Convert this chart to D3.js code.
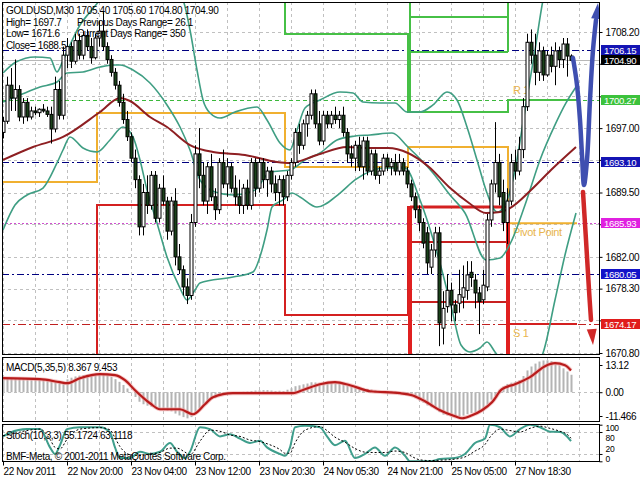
<!DOCTYPE html>
<html><head><meta charset="utf-8">
<script src="https://cdn.jsdelivr.net/npm/d3@7"></script>
<style>
html,body{margin:0;padding:0;background:#fff;}
svg{display:block;font-family:"Liberation Sans",Arial,sans-serif;font-size:10px;letter-spacing:-0.35px;}
</style></head><body>
<svg id="c" width="640" height="480"></svg>
<script>
// ---------------- DATA ----------------
// candles [open, high, low, close], one per 30-minute bar
const candles = [
[1696.5,1698.3,1695.8,1697.8],[1697.8,1703.0,1697.5,1702.0],[1702.0,1704.0,1699.0,1700.5],[1700.5,1705.0,1699.0,1701.5],
[1701.5,1702.0,1697.8,1698.3],[1698.3,1700.5,1697.5,1700.0],[1700.0,1700.5,1697.8,1698.3],[1698.3,1699.5,1698.0,1699.0],
[1699.0,1699.5,1698.5,1698.8],[1698.8,1699.3,1698.3,1699.2],[1699.2,1699.8,1698.8,1699.0],[1699.0,1699.5,1698.3,1698.6],
[1698.6,1699.5,1695.2,1696.9],[1696.9,1703.0,1696.5,1701.5],[1701.5,1702.5,1698.0,1698.5],[1698.5,1706.5,1698.0,1705.5],
[1705.5,1707.5,1704.0,1706.5],[1706.5,1707.0,1704.0,1704.8],[1704.8,1708.0,1704.5,1707.2],[1707.2,1708.0,1705.0,1705.5],
[1705.5,1708.3,1705.0,1707.8],[1707.8,1708.5,1706.0,1706.5],[1706.5,1707.5,1704.5,1705.2],[1705.2,1708.0,1705.0,1707.5],
[1707.5,1709.5,1706.5,1708.3],[1708.3,1710.5,1706.0,1706.5],[1706.5,1707.0,1704.5,1705.0],[1705.0,1705.5,1703.0,1703.5],
[1703.5,1704.0,1701.5,1702.0],[1702.0,1702.5,1699.5,1700.0],[1700.0,1701.0,1697.5,1698.0],[1698.0,1699.0,1695.5,1696.0],
[1696.0,1696.5,1693.0,1693.5],[1693.5,1694.5,1690.0,1691.0],[1691.0,1691.5,1684.5,1685.5],[1685.5,1690.5,1684.5,1689.5],
[1689.5,1691.5,1687.0,1688.0],[1688.0,1692.0,1687.5,1691.5],[1691.5,1692.0,1686.0,1686.5],[1686.5,1690.5,1686.0,1690.0],
[1690.0,1691.5,1688.0,1688.5],[1688.5,1689.0,1684.0,1685.0],[1685.0,1689.0,1684.5,1688.5],[1688.5,1690.0,1681.0,1682.0],
[1682.0,1683.5,1680.0,1680.5],[1680.5,1681.0,1677.5,1678.5],[1678.5,1679.5,1676.5,1677.5],[1677.5,1687.0,1677.0,1686.0],
[1686.0,1695.0,1685.5,1694.0],[1694.0,1697.0,1690.0,1691.5],[1691.5,1693.0,1688.0,1688.5],[1688.5,1693.0,1687.0,1692.5],
[1692.5,1694.0,1688.5,1689.0],[1689.0,1690.0,1686.3,1687.5],[1687.5,1693.5,1687.0,1693.0],[1693.0,1694.5,1690.0,1690.5],
[1690.5,1693.5,1689.0,1692.5],[1692.5,1693.0,1689.5,1690.0],[1690.0,1691.5,1688.0,1689.0],[1689.0,1691.0,1687.0,1688.0],
[1688.0,1690.5,1687.0,1690.0],[1690.0,1691.0,1687.5,1688.0],[1688.0,1693.5,1687.5,1693.0],[1693.0,1693.5,1689.0,1690.0],
[1690.0,1693.5,1689.5,1693.0],[1693.0,1693.5,1690.0,1691.0],[1691.0,1692.5,1689.0,1692.0],[1692.0,1692.5,1689.5,1690.5],
[1690.5,1691.5,1688.5,1689.5],[1689.5,1691.5,1688.0,1691.0],[1691.0,1691.5,1688.0,1689.0],[1689.0,1692.0,1688.5,1691.5],
[1691.5,1693.5,1691.0,1693.0],[1693.0,1697.0,1692.5,1696.5],[1696.5,1697.5,1694.0,1695.0],[1695.0,1698.0,1694.5,1697.5],
[1697.5,1699.0,1696.0,1698.5],[1698.5,1701.5,1698.0,1701.0],[1701.0,1701.5,1697.0,1697.5],[1697.5,1699.0,1695.0,1695.5],
[1695.5,1699.0,1695.0,1698.5],[1698.5,1699.0,1697.0,1697.5],[1697.5,1699.0,1697.0,1698.5],[1698.5,1699.5,1697.5,1698.0],
[1698.0,1699.0,1697.0,1698.5],[1698.5,1699.5,1696.0,1696.5],[1696.5,1697.0,1693.0,1694.0],[1694.0,1695.0,1692.5,1693.5],
[1693.5,1695.5,1692.0,1695.0],[1695.0,1696.0,1692.0,1692.5],[1692.5,1696.0,1691.0,1695.5],[1695.5,1696.0,1691.5,1692.0],
[1692.0,1694.5,1691.5,1694.0],[1694.0,1694.5,1691.0,1691.5],[1691.5,1692.5,1690.5,1692.0],[1692.0,1694.0,1691.5,1693.5],
[1693.5,1694.0,1692.0,1692.5],[1692.5,1693.5,1691.5,1693.0],[1693.0,1694.0,1691.5,1692.0],[1692.0,1694.0,1691.5,1693.0],
[1693.0,1693.5,1691.5,1692.0],[1692.0,1692.5,1690.0,1690.5],[1690.5,1691.0,1688.5,1689.0],[1689.0,1689.5,1686.5,1687.5],
[1687.5,1688.0,1685.0,1686.0],[1686.0,1686.5,1683.0,1683.6],[1684.8,1685.5,1680.0,1681.3],[1680.8,1683.5,1680.0,1682.8],
[1682.8,1685.5,1682.0,1684.8],[1684.8,1685.5,1671.6,1674.3],[1673.7,1678.0,1671.8,1676.0],[1676.2,1680.0,1675.5,1678.1],
[1678.1,1679.0,1674.5,1676.4],[1676.4,1677.0,1674.5,1675.5],[1676.6,1680.5,1675.5,1677.6],[1677.3,1681.0,1676.0,1678.4],
[1678.1,1681.5,1677.0,1679.9],[1680.2,1681.5,1678.5,1679.6],[1679.3,1680.0,1676.0,1677.8],[1677.8,1678.5,1673.0,1676.8],
[1677.0,1680.5,1676.5,1678.7],[1678.5,1687.0,1678.0,1686.3],[1686.3,1691.0,1685.5,1690.5],[1690.5,1697.7,1689.5,1693.0],
[1693.0,1694.0,1688.0,1689.0],[1689.5,1691.0,1685.0,1686.0],[1686.0,1690.0,1683.5,1688.5],[1688.5,1694.0,1688.0,1693.0],
[1693.0,1694.5,1691.0,1692.0],[1692.0,1696.0,1691.5,1694.5],[1694.5,1700.5,1693.5,1699.5],[1699.5,1708.0,1699.0,1707.0],
[1707.0,1708.5,1704.5,1705.5],[1705.5,1708.0,1702.0,1703.5],[1703.5,1707.0,1702.5,1706.0],[1706.0,1706.5,1702.5,1703.2],
[1703.2,1706.0,1703.0,1705.5],[1705.5,1706.5,1703.5,1704.2],[1704.2,1707.0,1702.0,1706.0],[1706.0,1706.5,1704.0,1705.0],
[1705.0,1707.5,1704.0,1706.8],[1706.8,1707.5,1703.0,1705.4],[1705.4,1705.6,1704.8,1704.9]
];

// Bollinger-type bands and moving average as [bar, price]
const bandUpper = [[0,1703.42],[3.25,1704.70],[8,1705.29],[11.75,1705.17],[13.5,1703.54],[14.75,1704.59],[16.75,1706.69],
[19.25,1709.02],[21.75,1710.53],[24.25,1711.93],[29.25,1714.84],[36.75,1715.42],[41.75,1713.67],[45,1711.93],[46.75,1708.43],
[48.5,1703.77],[50,1700.28],[51.75,1698.76],[54.25,1698.18],[58,1698.88],[63.5,1699.46],[66,1697.95],[69.25,1695.27],
[71.75,1694.45],[73.5,1696.78],[75.5,1699.35],[79.25,1700.28],[84.25,1701.21],[87.5,1701.09],[90,1700.04],[94.25,1699.93],
[98,1699.93],[101,1698.88],[104.25,1698.88],[107.5,1699.70],[111,1701.21],[113.5,1700.28],[116,1697.13],[118.5,1693.29],
[121,1689.44],[123.5,1687.23],[125.5,1688.04],[128,1692.12],[130.5,1699.11],[133,1706.10],[135,1711.93],[136.75,1715.42]];
const bandMiddle = [[0,1700.04],[4.25,1700.86],[9.25,1701.79],[13.5,1702.37],[16,1703.42],[20,1703.54],[24.25,1704.12],
[27.5,1704.36],[29.25,1704.36],[32.5,1703.77],[36.75,1702.26],[41,1699.70],[44.25,1697.13],[46.75,1694.45],[49.25,1690.96],
[53,1689.56],[57.5,1689.21],[63,1689.79],[66.75,1691.89],[71.75,1692.12],[75.5,1693.29],[79.25,1694.10],[83.5,1695.62],
[88,1696.08],[91.75,1696.20],[97.25,1696.43],[101.25,1694.80],[107.5,1691.77],[111.75,1689.21],[115.5,1687.11],
[120.75,1681.64],[124.25,1681.87],[127.25,1683.97],[130.5,1688.04],[134.25,1693.29],[138,1697.37],[140.75,1699.93],[143.25,1701.79]];
const bandLower = [[0,1685.13],[3,1688.04],[6,1689.21],[10,1690.02],[13.5,1692.94],[15,1694.45],[16.75,1695.97],[20,1694.68],
[23.5,1694.22],[26.75,1695.62],[30,1697.13],[32.5,1695.97],[34.25,1693.29],[36,1689.79],[38.5,1685.95],[41,1681.99],
[44.25,1678.37],[46,1676.98],[48,1678.14],[49.25,1678.96],[57.5,1679.65],[62.5,1680.24],[64.75,1682.80],[66,1685.13],
[67.25,1687.81],[70,1688.63],[72.25,1689.44],[74.25,1688.98],[78.5,1687.81],[84.25,1689.44],[88,1690.96],[95.5,1692.35],
[100.5,1692.35],[104.25,1688.63],[109.5,1680.82],[112.25,1675.81],[114.5,1671.73],[116.75,1670.92],[119.25,1671.38],
[121,1672.08],[123,1670.92],[125.5,1669.40],[129.25,1668.59],[133,1669.40],[135,1670.80],[138,1676.98],[140.5,1682.22],[143.25,1687.11]];
const maLine = [[0,1693.29],[7.5,1694.80],[15,1695.97],[24.25,1698.88],[29.25,1700.51],[31.75,1700.16],[36.75,1698.30],
[41,1697.13],[46.75,1695.03],[52.5,1694.22],[60.5,1693.87],[68.5,1693.05],[71.75,1692.94],[78.5,1693.87],[86,1694.80],
[91.75,1694.68],[96.25,1694.68],[101.25,1694.10],[106.5,1692.47],[111.5,1690.14],[116.5,1688.28],[120.75,1687.11],
[124.25,1687.23],[126.75,1687.69],[132,1689.79],[137,1692.12],[143.25,1694.80]];

// daily pivot levels (day edges in bars)
const dayEdges = [-0.25, 23.5, 70.5, 101.25, 126.25, 143.5];
const pivotLevels = [1690.72, 1698.76, 1692.47, 1694.80, 1685.93];
const r1Levels = [1713.5, 1713.5, 1707.97, 1698.88, 1700.27];
const s1Levels = [1667.5, 1688.04, 1675.23, 1687.81, 1674.17];
const extraGreenLevels = [1709.95, 1705.87];
const extraRedLevels = [1683.73, 1676.74];

// forecast arrows [bar, price]
const blueArrow = [[142.5,1705.17],[143.5,1702.03],[144.25,1697.95],[144.75,1693.87],[145.25,1690.37],[146,1693.29],
[146.75,1700.28],[147.5,1706.10],[148.25,1709.60],[148.75,1711.58]];
const redArrow = [[145,1689.56],[145.75,1683.97],[146.5,1678.14],[147,1674.65],[147.5,1671.73]];

// axis values
const priceTicks = [1708.20,1704.50,1700.70,1697.00,1693.30,1689.50,1685.80,1682.00,1678.30,1674.60,1670.80];
const navyLevels = [1706.15, 1693.10, 1680.05];
const bidPrice = 1704.90;
const r1Today = 1700.27, pivotToday = 1685.93, s1Today = 1674.17;
const markerPrices = [1706.15, 1704.90, 1700.27, 1693.10, 1685.93, 1680.05, 1674.17];
const timeLabelBars = [0,16,32,48,64,80,96,112,128];
const timeLabels = ["22 Nov 2011","22 Nov 20:00","23 Nov 04:00","23 Nov 12:00","23 Nov 20:30","24 Nov 05:30","24 Nov 21:00","25 Nov 05:00","27 Nov 18:30"];
const headerLines = ["GOLDUSD,M30  1705.40 1705.60 1704.80 1704.90","High= 1697.7","Low= 1671.6","Close= 1688.5"];
const headerRight = ["Previous Days Range= 26.1","Current Days Range= 350"];

// MACD(5,35,5)
const macdHist = [6.5,6.8,6.9,6.8,6.9,6.8,6.7,6.6,6.5,6.4,6.2,5.9,5.4,5.2,4.6,4.8,6.2,7.0,7.6,8.0,8.3,8.5,8.6,8.6,8.7,8.6,8.2,7.4,
6.3,5.0,3.5,1.8,-0.2,-2.3,-4.6,-5.8,-6.5,-7.0,-7.8,-8.2,-8.4,-8.9,-9.2,-10.3,-11.2,-12.0,-12.6,-12.0,-9.8,-7.8,-6.2,-4.5,-3.4,
-2.8,-1.6,-1.2,-0.6,-0.2,0.1,0.0,0.2,0.3,0.6,0.8,0.9,1.0,1.0,0.8,0.6,0.7,0.6,1.2,1.9,2.9,3.3,3.8,4.2,4.8,4.7,4.3,4.2,4.4,4.5,
4.4,4.3,3.9,3.2,2.6,2.3,1.8,1.8,1.5,1.3,0.9,0.7,0.6,0.5,0.4,0.3,0.0,-0.6,-1.2,-1.9,-2.8,-3.9,-5.0,-6.4,-7.2,-7.4,-9.6,-10.8,
-11.2,-11.6,-12.0,-11.8,-11.3,-10.6,-10.0,-9.6,-9.4,-8.8,-6.0,-3.6,-1.8,1.2,2.8,4.0,4.6,5.0,5.8,7.8,10.5,12.4,13.8,14.8,15.3,
15.4,15.0,14.2,13.0,11.5,10.0,8.4];
const macdSignal = [[0,6.76],[9.25,6.28],[14.25,4.83],[16,4.35],[19.25,6.76],[24.25,8.7],[28,8.21],[30.5,5.8],[33,0.97],
[36.75,-5.31],[39.25,-8.21],[44.25,-8.21],[47.5,-10.63],[50.5,-5.8],[52.5,-2.42],[57.5,-0.48],[64.25,-0.48],[72.5,-0.48],
[75.5,1.45],[79.25,3.86],[83,4.83],[86.75,3.38],[91.75,0.48],[99.25,-0.48],[102.25,-1.45],[105.5,-4.35],[109.25,-8.7],
[113,-11.59],[114.75,-12.56],[117.25,-11.11],[119.75,-8.7],[122.25,-4.83],[124.75,1.45],[128,3.86],[131.75,7.25],
[135.5,12.56],[138,14.0],[140.5,13.04],[142,10.5]];
const macdTicks = [13.12, 0.00, -11.466];

// Stochastic(10,3,3)
const stochMain = [[0,68],[1.75,78],[6,88],[9.25,88],[11.75,38],[13,20],[14.25,44],[16,88],[19.25,93],[24.25,93],[26.75,79],
[28,38],[29.25,9],[31.75,9],[34.25,26],[36.75,20],[39.25,26],[41.75,50],[43.5,26],[45.5,9],[46.75,26],[49.25,93],[51.75,88],
[54.25,68],[56.75,74],[59.25,62],[61.75,50],[64.25,56],[66,38],[69.25,20],[70.5,15],[71.75,38],[73,93],[75.5,97],[79.25,93],
[81,68],[83,44],[85.5,56],[88,9],[90.5,20],[93,38],[95.5,15],[98,38],[100.5,15],[101.75,0],[104.25,0],[106.75,0],[109.25,6],
[113,9],[115.5,20],[118,50],[120.5,62],[121.75,100],[124.25,93],[126.75,68],[129.25,88],[131.75,100],[134.25,93],[136.75,81],
[139.25,80],[141,68],[142,55.17]];
const stochSignal = [[0,70],[2,74],[6,84],[9.25,88],[11.75,60],[13,38],[14.25,34],[16,60],[19.25,88],[24.25,92],[26.75,86],
[28,64],[29.25,40],[31.75,18],[34.25,16],[36.75,20],[39.25,24],[41.75,36],[43.5,36],[45.5,25],[46.75,18],[49.25,55],[51.75,85],
[54.25,82],[56.75,72],[59.25,68],[61.75,58],[64.25,54],[66,48],[69.25,32],[70.5,22],[71.75,22],[73,50],[75.5,85],[79.25,95],
[81,84],[83,66],[85.5,52],[88,35],[90.5,25],[93,24],[95.5,24],[98,28],[100.5,24],[101.75,16],[104.25,4],[106.75,2],[109.25,3],
[113,6],[115.5,12],[118,28],[120.5,46],[121.75,66],[124.25,88],[126.75,84],[129.25,80],[131.75,90],[134.25,96],[136.75,90],
[139.25,82],[141,74],[142,63.11]];
const stochLevels = [80, 20];
const stochTickVals = [100, 80, 20, 0];

// ---------------- DRAW ----------------
const svg = d3.select("#c");
const L = 2, R = 600;
const mainTop = 2, mainBot = 355, macdTop = 357, macdBot = 422, stTop = 424, stBot = 462;
const x = d3.scaleLinear().domain([0, 142]).range([3, 571]);
const y = d3.scaleLinear().domain([1670.8, 1708.2]).range([353, 32]);
const ym = d3.scaleLinear().domain([-11.466, 13.12]).range([416, 365]);
const ys = d3.scaleLinear().domain([0, 100]).range([461.3, 424.7]);

const defs = svg.append("defs");
function clip(id, y0, y1){ defs.append("clipPath").attr("id", id).append("rect").attr("x", L).attr("y", y0).attr("width", R - L).attr("height", y1 - y0); }
clip("cm", mainTop, mainBot); clip("cmacd", macdTop, macdBot); clip("cst", stTop, stBot);

const gMain = svg.append("g").attr("clip-path", "url(#cm)");
const gMacd = svg.append("g").attr("clip-path", "url(#cmacd)");
const gSt = svg.append("g").attr("clip-path", "url(#cst)");

const grid = "#c0c0c0";
const vBars = d3.range(0, 150, 8);
[[gMain, mainTop, mainBot],[gMacd, macdTop, macdBot],[gSt, stTop, stBot]].forEach(([g, a, b]) => {
  g.selectAll(null).data(vBars).join("line")
    .attr("x1", d => Math.round(x(d)) + 0.5).attr("x2", d => Math.round(x(d)) + 0.5)
    .attr("y1", a).attr("y2", b).attr("stroke", grid).attr("stroke-dasharray", "3,3");
});
gMain.selectAll(null).data(priceTicks).join("line")
  .attr("x1", L).attr("x2", R).attr("y1", d => Math.round(y(d)) + 0.5).attr("y2", d => Math.round(y(d)) + 0.5)
  .attr("stroke", grid).attr("stroke-dasharray", "3,3");
gMacd.append("line").attr("x1", L).attr("x2", R).attr("y1", Math.round(ym(0)) + 0.5).attr("y2", Math.round(ym(0)) + 0.5)
  .attr("stroke", grid).attr("stroke-dasharray", "3,3");
gSt.selectAll(null).data(stochLevels).join("line")
  .attr("x1", L).attr("x2", R).attr("y1", d => Math.round(ys(d)) + 0.5).attr("y2", d => Math.round(ys(d)) + 0.5)
  .attr("stroke", grid).attr("stroke-dasharray", "3,3");

// header text (under candles)
headerLines.forEach((t, i) => svg.append("text").attr("x", 6).attr("y", 14 + i * 11.7).attr("fill", "#000").text(t));
headerRight.forEach((t, i) => svg.append("text").attr("x", 77).attr("y", 25.7 + i * 11.7).attr("fill", "#000").text(t));

// full-width level lines
function hline(v, color, dash, w){
  gMain.append("line").attr("x1", L).attr("x2", R).attr("y1", Math.round(y(v)) + 0.5).attr("y2", Math.round(y(v)) + 0.5)
    .attr("stroke", color).attr("stroke-width", w || 1).attr("stroke-dasharray", dash);
}
hline(bidPrice, "#b8b8b8", null);
navyLevels.forEach(v => hline(v, "#000080", "7,3,2,3"));
hline(r1Today, "#3cb83c", "4,3");
hline(pivotToday, "#d050d0", "2,2");
hline(s1Today, "#c02020", "8,3,2,3");

// step lines
const step = d3.line().x(d => x(d[0])).y(d => y(d[1])).curve(d3.curveStepAfter);
function stepPts(levels){ const p = levels.map((v, i) => [dayEdges[i], v]); p.push([dayEdges[dayEdges.length - 1], levels[levels.length - 1]]); return p; }
gMain.append("path").attr("d", step(stepPts(pivotLevels))).attr("fill", "none").attr("stroke", "#f0b030").attr("stroke-width", 2);
gMain.append("path").attr("d", step(stepPts(r1Levels))).attr("fill", "none").attr("stroke", "#46c046").attr("stroke-width", 2);
gMain.append("path").attr("d", step(stepPts(s1Levels))).attr("fill", "none").attr("stroke", "#d42020").attr("stroke-width", 2);
const d3a = dayEdges[3] + 0.5, d3b = dayEdges[4];
extraGreenLevels.forEach(v => gMain.append("line").attr("x1", x(d3a)).attr("x2", x(d3b)).attr("y1", y(v)).attr("y2", y(v)).attr("stroke", "#46c046").attr("stroke-width", 2));
extraRedLevels.forEach(v => gMain.append("line").attr("x1", x(d3a)).attr("x2", x(d3b)).attr("y1", y(v)).attr("y2", y(v)).attr("stroke", "#c82020").attr("stroke-width", 2));
gMain.append("line").attr("x1", x(d3a)).attr("x2", x(d3a)).attr("y1", y(1713)).attr("y2", y(r1Levels[3])).attr("stroke", "#46c046").attr("stroke-width", 2);
gMain.append("line").attr("x1", x(d3b)).attr("x2", x(d3b)).attr("y1", y(1713)).attr("y2", y(extraGreenLevels[1])).attr("stroke", "#46c046").attr("stroke-width", 2);
[d3a, d3b].forEach(b => gMain.append("line").attr("x1", x(b)).attr("x2", x(b)).attr("y1", y(s1Levels[3])).attr("y2", y(1668)).attr("stroke", "#e02020").attr("stroke-width", 4));
gMain.append("line").attr("x1", x(d3a)).attr("x2", x(d3b)).attr("y1", y(s1Levels[3])).attr("y2", y(s1Levels[3])).attr("stroke", "#d42020").attr("stroke-width", 3);

// pivot labels
const lblX = x(dayEdges[4]) + 5;
[["R 1", r1Today, -6],["Pivot Point", pivotToday, 13],["S 1", s1Today, 13]].forEach(([t, v, dy]) =>
  gMain.append("text").attr("x", lblX).attr("y", y(v) + dy).attr("fill", "#e8b44c").style("font-size", "11px").text(t));

// bands and MA
const ln = d3.line().x(d => x(d[0])).y(d => y(d[1])).curve(d3.curveMonotoneX);
[bandUpper, bandMiddle, bandLower].forEach(b => gMain.append("path").attr("d", ln(b)).attr("fill", "none").attr("stroke", "#3f9e83").attr("stroke-width", 1.6));
gMain.append("path").attr("d", ln(maLine)).attr("fill", "none").attr("stroke", "#8e1f22").attr("stroke-width", 2);

// candles
const cg = gMain.append("g");
candles.forEach((c, i) => {
  const [o, h, l, cl] = c;
  const cx = Math.round(x(i)) + 0.5;
  cg.append("line").attr("x1", cx).attr("x2", cx).attr("y1", y(h)).attr("y2", y(l)).attr("stroke", "#000").attr("stroke-width", 1);
  const top = y(Math.max(o, cl)), bot = y(Math.min(o, cl));
  cg.append("rect").attr("x", cx - 1.5).attr("y", top).attr("width", 3).attr("height", Math.max(1, bot - top))
    .attr("fill", cl >= o ? "#ffffff" : "#1a421a").attr("stroke", "#000").attr("stroke-width", 1);
});

// arrows
function arrow(pts, color){
  const body = pts.slice(0, pts.length - 1);
  gMain.append("path").attr("d", d3.line().x(d => x(d[0])).y(d => y(d[1])).curve(d3.curveCatmullRom)(body))
    .attr("fill", "none").attr("stroke", color).attr("stroke-width", 4.5).attr("stroke-linecap", "round");
  const tip = pts[pts.length - 1], prev = pts[pts.length - 2];
  const tx = x(tip[0]), ty = y(tip[1]), px = x(prev[0]), py = y(prev[1]);
  const dx = tx - px, dy = ty - py, len = Math.hypot(dx, dy), ux = dx / len, uy = dy / len;
  const bx = tx - ux * 16, by = ty - uy * 16;
  gMain.append("path").attr("d", `M${tx},${ty}L${bx - uy * 5},${by + ux * 5}L${bx + uy * 5},${by - ux * 5}Z`).attr("fill", color);
}
arrow(blueArrow, "#3f4fb0");
arrow(redArrow, "#d02828");

// MACD
gMacd.selectAll(null).data(macdHist).join("rect")
  .attr("x", (d, i) => Math.round(x(i)) - 0.5).attr("width", 2)
  .attr("y", d => Math.min(ym(0), ym(d))).attr("height", d => Math.abs(ym(d) - ym(0)))
  .attr("fill", "#b4b4b4");
const macdPath = d3.line().x(d => x(d[0])).y(d => ym(d[1])).curve(d3.curveMonotoneX)(macdSignal);
gMacd.append("path").attr("d", macdPath).attr("fill", "none").attr("stroke", "#f0a0a0").attr("stroke-width", 4).attr("opacity", 0.6);
gMacd.append("path").attr("d", macdPath).attr("fill", "none").attr("stroke", "#b81c1c").attr("stroke-width", 2.2);
svg.append("text").attr("x", 6).attr("y", 371).text("MACD(5,35,5) 8.367 9.453");

// Stochastic
gSt.append("path").attr("d", d3.line().x(d => x(d[0])).y(d => ys(d[1])).curve(d3.curveMonotoneX)(stochMain))
  .attr("fill", "none").attr("stroke", "#3f9e8c").attr("stroke-width", 2);
gSt.append("path").attr("d", d3.line().x(d => x(d[0])).y(d => ys(d[1])).curve(d3.curveMonotoneX)(stochSignal))
  .attr("fill", "none").attr("stroke", "#000").attr("stroke-width", 1).attr("stroke-dasharray", "2,2");
svg.append("text").attr("x", 6).attr("y", 439).text("Stoch(10,3,3) 55.1724 63.1118");
svg.append("text").attr("x", 6).attr("y", 460).text("BMF-Meta, \u00a9 2001-2011 MetaQuotes Software Corp.");

// frames
[[mainTop, mainBot],[macdTop, macdBot],[stTop, stBot]].forEach(([a, b]) =>
  svg.append("rect").attr("x", L + 0.5).attr("y", a + 0.5).attr("width", R - L - 1).attr("height", b - a - 1)
    .attr("fill", "none").attr("stroke", "#000"));

// price axis: tick labels hidden behind a marker box are not written
const visibleTicks = priceTicks.filter(t => markerPrices.every(m => Math.abs(y(t) - y(m)) > 10));
const ax = svg.append("g").attr("transform", `translate(${R - 0.5},0)`)
  .call(d3.axisRight(y).tickValues(priceTicks).tickFormat(d => visibleTicks.includes(d) ? d3.format(".2f")(d) : "").tickSize(3).tickPadding(3));
ax.select(".domain").remove();
ax.selectAll("text").attr("font-family", null).attr("font-size", null).attr("fill", "#000");
ax.selectAll("line").attr("stroke", "#000");
const markerBg = {"1706.15":"#1414b4","1704.9":"#000000","1700.27":"#3cc23c","1693.1":"#1414b4","1685.93":"#e020e0","1680.05":"#1414c8","1674.17":"#e01c1c"};
markerPrices.forEach(v => {
  const yy = Math.round(y(v));
  svg.append("rect").attr("x", R + 1).attr("y", yy - 5).attr("width", 39).attr("height", 10).attr("fill", markerBg[String(v)]);
  svg.append("text").attr("x", R + 4).attr("y", yy + 3.5).attr("fill", "#fff").style("font-size", "9.6px").text(v.toFixed(2));
});

// MACD axis
const axm = svg.append("g").attr("transform", `translate(${R - 0.5},0)`)
  .call(d3.axisRight(ym).tickValues(macdTicks).tickFormat(d => d === 0 ? "0.00" : String(d)).tickSize(3).tickPadding(3));
axm.select(".domain").remove();
axm.selectAll("text").attr("font-family", null).attr("font-size", null);
// stoch axis
const stOffset = {100: 3, 80: 6, 20: -5.5, 0: -3};
const axs = svg.append("g").attr("transform", `translate(${R - 0.5},0)`)
  .call(d3.axisRight(ys).tickValues(stochTickVals).tickFormat(d3.format("d")).tickSize(3).tickPadding(3));
axs.select(".domain").remove();
axs.selectAll("text").attr("font-family", null).attr("font-size", null).style("font-size", "8.5px")
  .attr("y", d => stOffset[d]);

// time axis
const axt = svg.append("g").attr("transform", `translate(0,${stBot - 0.5})`)
  .call(d3.axisBottom(x).tickValues(timeLabelBars).tickFormat((d, i) => timeLabels[i]).tickSize(4).tickPadding(1));
axt.select(".domain").remove();
axt.selectAll("text").attr("font-family", null).attr("font-size", null).attr("text-anchor", "start").attr("x", 0).attr("dy", "0.85em");
</script></body></html>
